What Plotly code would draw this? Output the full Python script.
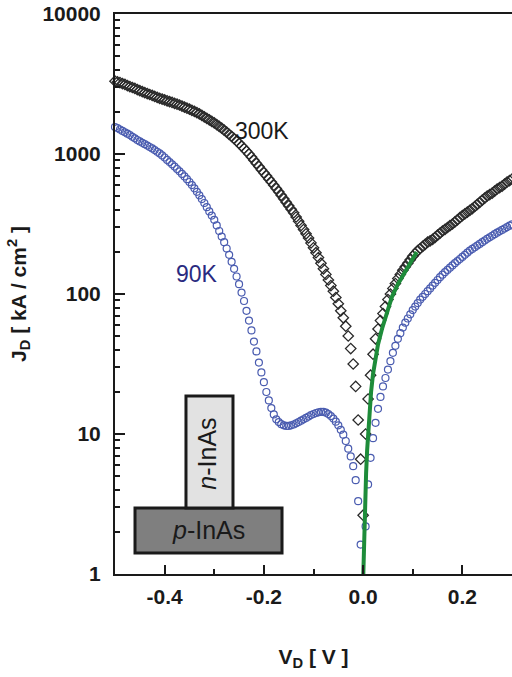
import numpy as np
import plotly.graph_objects as go

# Bias sweep (V), 5 mV steps from -0.5 V to 0.3 V
V_D = [round(-0.5 + 0.005 * i, 3) for i in range(161)]

# log10 of J_D [kA/cm^2]
log_J_300K = [
    3.520, 3.515, 3.510, 3.503, 3.497, 3.489, 3.482, 3.475, 3.468, 3.460,
    3.452, 3.445, 3.438, 3.432, 3.425, 3.418, 3.411, 3.405, 3.398, 3.392,
    3.386, 3.380, 3.374, 3.368, 3.362, 3.356, 3.350, 3.342, 3.335, 3.327,
    3.320, 3.312, 3.304, 3.296, 3.286, 3.276, 3.265, 3.255, 3.244, 3.233,
    3.222, 3.210, 3.197, 3.184, 3.170, 3.156, 3.141, 3.126, 3.110, 3.093,
    3.076, 3.058, 3.040, 3.020, 3.000, 2.978, 2.956, 2.933, 2.910, 2.888,
    2.866, 2.844, 2.822, 2.800, 2.777, 2.753, 2.730, 2.705, 2.680, 2.655,
    2.630, 2.605, 2.580, 2.550, 2.520, 2.490, 2.460, 2.430, 2.400, 2.365,
    2.330, 2.295, 2.260, 2.220, 2.180, 2.140, 2.100, 2.060, 2.020, 1.975,
    1.930, 1.880, 1.830, 1.770, 1.700, 1.610, 1.500, 1.340, 1.100, 0.820,
    0.420,
    1.000, 1.250, 1.420, 1.570, 1.680, 1.750, 1.810, 1.860, 1.910, 1.960,
    2.000, 2.040, 2.075, 2.110, 2.140, 2.170, 2.195, 2.220, 2.245, 2.270,
    2.290, 2.310, 2.325, 2.340, 2.355, 2.370, 2.380, 2.390, 2.405, 2.420,
    2.435, 2.450, 2.462, 2.475, 2.488, 2.500, 2.515, 2.530, 2.545, 2.560,
    2.572, 2.585, 2.598, 2.610, 2.625, 2.640, 2.655, 2.670, 2.685, 2.700,
    2.710, 2.720, 2.735, 2.750, 2.760, 2.770, 2.785, 2.800, 2.810, 2.820,
]

log_J_90K = [
    3.193, 3.185, 3.175, 3.165, 3.155, 3.145, 3.135, 3.123, 3.112, 3.100,
    3.090, 3.080, 3.070, 3.060, 3.050, 3.040, 3.028, 3.016, 3.004, 2.990,
    2.975, 2.958, 2.942, 2.926, 2.910, 2.893, 2.876, 2.858, 2.840, 2.820,
    2.800, 2.778, 2.755, 2.730, 2.705, 2.678, 2.650, 2.620, 2.590, 2.560,
    2.530, 2.490, 2.450, 2.410, 2.370, 2.325, 2.280, 2.230, 2.180, 2.125,
    2.070, 2.010, 1.950, 1.880, 1.810, 1.740, 1.660, 1.590, 1.510, 1.440,
    1.370, 1.300, 1.240, 1.185, 1.140, 1.105, 1.085, 1.070, 1.062, 1.058,
    1.058, 1.062, 1.068, 1.076, 1.085, 1.095, 1.105, 1.115, 1.125, 1.135,
    1.143, 1.150, 1.155, 1.158, 1.158, 1.152, 1.142, 1.128, 1.110, 1.088,
    1.062, 1.030, 0.995, 0.950, 0.895, 0.840, 0.770, 0.670, 0.520, 0.210,
    None,
    0.340, 0.640, 0.830, 0.970, 1.080, 1.180, 1.265, 1.340, 1.400, 1.460,
    1.520, 1.580, 1.630, 1.680, 1.720, 1.760, 1.795, 1.825, 1.855, 1.885,
    1.910, 1.935, 1.960, 1.980, 2.000, 2.020, 2.040, 2.060, 2.080, 2.100,
    2.120, 2.138, 2.156, 2.172, 2.188, 2.204, 2.220, 2.235, 2.250, 2.265,
    2.280, 2.295, 2.310, 2.322, 2.334, 2.346, 2.358, 2.370, 2.382, 2.394,
    2.405, 2.416, 2.427, 2.438, 2.448, 2.458, 2.468, 2.478, 2.488, 2.497,
]

# Green fit line
V_fit = [0.0, 0.002, 0.004, 0.006, 0.008, 0.010, 0.013, 0.016, 0.020, 0.025,
         0.030, 0.038, 0.048, 0.058, 0.070, 0.086, 0.100, 0.108]
log_J_fit = [-0.05, 0.28, 0.52, 0.72, 0.88, 1.02, 1.18, 1.30, 1.43, 1.55,
             1.64, 1.75, 1.87, 1.98, 2.07, 2.17, 2.25, 2.30]

x_tickvals = [-0.4, -0.2, 0.0, 0.2]
x_ticktext = ["-0.4", "-0.2", "0.0", "0.2"]
x_minor = [-0.5, -0.3, -0.1, 0.1, 0.3]
y_tickvals = [1, 10, 100, 1000, 10000]
y_ticktext = ["1", "10", "100", "1000", "10000"]
y_minor = [m * 10 ** d for d in range(4) for m in range(2, 10)]


def to_J(vals):
    return [None if v is None else 10 ** v for v in vals]


fig = go.Figure()
fig.add_trace(go.Scatter(
    x=V_D, y=to_J(log_J_300K), mode="markers", cliponaxis=False,
    marker=dict(symbol="diamond-open", size=8, color="#2a2a2a",
                line=dict(width=1.3, color="#2a2a2a")),
    showlegend=False))
fig.add_trace(go.Scatter(
    x=V_D, y=to_J(log_J_90K), mode="markers", cliponaxis=False,
    marker=dict(symbol="circle-open", size=7, color="#4a5cb0",
                line=dict(width=1.2, color="#4a5cb0")),
    showlegend=False))
fig.add_trace(go.Scatter(
    x=V_fit, y=to_J(log_J_fit), mode="lines",
    line=dict(color="#1e8c3a", width=4), showlegend=False))

font_family = "Liberation Sans, Arial, sans-serif"

fig.add_annotation(x=-0.204, y=3.165, xref="x", yref="y", text="300K",
                   showarrow=False, xanchor="center", yanchor="middle",
                   font=dict(family=font_family, size=23, color="#1a1a1a"))
fig.add_annotation(x=-0.334, y=2.143, xref="x", yref="y", text="90K",
                   showarrow=False, xanchor="center", yanchor="middle",
                   font=dict(family=font_family, size=23, color="#2a2a80"))

# inset device sketch
fig.add_shape(type="rect", xref="paper", yref="paper",
              x0=0.0504, x1=0.4207, y0=0.0375, y1=0.1179,
              fillcolor="#7f7f7f", line=dict(color="#1a1a1a", width=3))
fig.add_shape(type="rect", xref="paper", yref="paper",
              x0=0.1788, x1=0.2972, y0=0.1179, y1=0.3179,
              fillcolor="#e2e2e2", line=dict(color="#1a1a1a", width=3))
fig.add_annotation(x=0.2355, y=0.0777, xref="paper", yref="paper",
                   text="<i>p</i>-InAs", showarrow=False,
                   xanchor="center", yanchor="middle",
                   font=dict(family=font_family, size=25, color="#1a1a1a"))
fig.add_annotation(x=0.233, y=0.214, xref="paper", yref="paper",
                   text="<i>n</i>-InAs", showarrow=False, textangle=-90,
                   xanchor="center", yanchor="middle",
                   font=dict(family=font_family, size=25, color="#1a1a1a"))

fig.update_layout(
    width=512, height=677,
    margin=dict(l=115, r=0, t=14, b=103),
    paper_bgcolor="white", plot_bgcolor="white",
    font=dict(family=font_family, color="#1a1a1a"),
)
fig.update_xaxes(
    range=[-0.5, 0.3], showgrid=False, zeroline=False,
    showline=True, linecolor="#1a1a1a", linewidth=2, mirror=True,
    ticks="inside", ticklen=9, tickwidth=2, tickcolor="#1a1a1a",
    tickvals=x_tickvals, ticktext=x_ticktext,
    tickfont=dict(family=font_family, size=21, weight="bold"),
    ticklabelstandoff=3,
    minor=dict(tickvals=x_minor, ticks="inside", ticklen=5, tickwidth=2,
               tickcolor="#1a1a1a", showgrid=False),
    title=dict(text="V<sub>D</sub> [ V ]", standoff=42,
               font=dict(family=font_family, size=21, weight="bold")),
)
fig.update_yaxes(
    type="log", range=[0, 4], showgrid=False, zeroline=False,
    showline=True, linecolor="#1a1a1a", linewidth=2, mirror=False,
    ticks="inside", ticklen=10, tickwidth=2, tickcolor="#1a1a1a",
    tickvals=y_tickvals, ticktext=y_ticktext,
    tickfont=dict(family=font_family, size=21, weight="bold"),
    ticklabelstandoff=8,
    minor=dict(tickvals=y_minor, ticks="inside", ticklen=5, tickwidth=2,
               tickcolor="#1a1a1a", showgrid=False),
    title=dict(text="J<sub>D</sub> [ kA / cm<sup>2</sup> ]", standoff=10,
               font=dict(family=font_family, size=21, weight="bold")),
)

fig.write_html("out.html")
